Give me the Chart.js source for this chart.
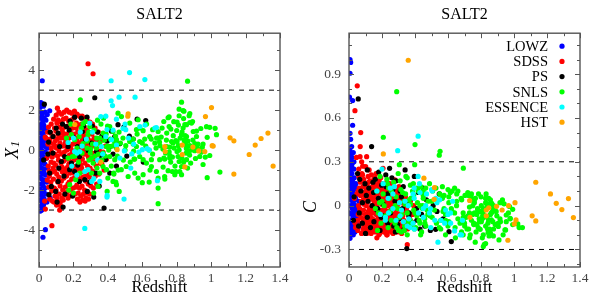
<!DOCTYPE html>
<html>
<head>
<meta charset="utf-8">
<script src="https://cdn.jsdelivr.net/npm/chart.js@4.4.0/dist/chart.umd.min.js"></script>
<style>
html, body { margin: 0; padding: 0; background: #fff; }
#wrap { position: relative; width: 598px; height: 299px; }
#wrap canvas { position: absolute; top: 0; }
</style>
</head>
<body>
<div id="wrap">
  <canvas id="left" width="299" height="299" style="left:0"></canvas>
  <canvas id="right" width="299" height="299" style="left:299px"></canvas>
</div>
<script>
// each row: [redshift, X1, C]
var lowz = [
  [0.019,3.47,0.12],[0.037,-3.98,-0.06],[0.023,-4.36,0.03],[0.010,2.38,0.98],[0.006,2.15,1.0],
  [0.006,1.6,0.906],[0.003,1.0,0.742],[0.022,2.3,0.719],[0.022,1.45,0.55],[0.006,0.6,0.495],
  [0.010,0.05,0.454],[0.016,-0.9,0.404],[0.006,-0.2,0.376],[0.026,2.2,0.363],[0.010,-1.1,0.347],
  [0.006,-2.5,-0.224],[0.016,-3.0,-0.19],[0.014,2.35,0.3],[0.062,1.97,-0.02],[0.048,1.78,-0.1],
  [0.012,1.9,0.26],[0.018,1.75,0.22],[0.030,1.6,0.15],[0.040,1.5,0.05],[0.014,1.3,0.19],
  [0.028,1.25,-0.05],[0.008,1.15,0.28],[0.035,1.1,-0.12],[0.018,1.0,0.1],[0.045,0.95,-0.15],
  [0.010,0.85,0.24],[0.025,0.8,0.02],[0.032,0.65,-0.08],[0.015,0.5,0.17],[0.040,0.45,0.0],
  [0.022,0.35,-0.17],[0.008,0.25,0.21],[0.030,0.2,0.08],[0.050,0.1,-0.1],[0.020,-0.05,-0.02],
  [0.036,-0.1,0.04],[0.016,-0.3,0.13],[0.027,-0.35,-0.14],[0.044,-0.4,-0.06],[0.010,-0.5,0.06],
  [0.022,-0.6,0.18],[0.034,-0.7,-0.04],[0.006,-0.8,0.32],[0.028,-0.95,0.11],[0.050,-0.9,-0.13],
  [0.022,-1.2,-0.09],[0.038,-1.25,0.07],[0.006,-1.35,0.14],[0.016,-1.45,-0.11],[0.030,-1.5,0.25],
  [0.045,-1.6,-0.02],[0.010,-1.7,-0.16],[0.024,-1.8,0.09],[0.036,-1.9,-0.18],[0.006,-1.95,0.0],
  [0.016,-2.05,0.27],[0.028,-2.1,-0.07],[0.012,-2.25,0.04],[0.022,-2.35,-0.12],[0.040,-2.2,0.12],
  [0.008,-2.5,-0.2],[0.018,-2.6,0.16],[0.030,-2.45,-0.03],[0.012,-2.8,0.07],[0.020,-2.9,-0.15],
  [0.008,-3.05,0.2],[0.026,-2.75,0.01],[0.055,-0.2,-0.08],[0.058,-1.3,-0.144],[0.060,0.5,0.03],
  [0.065,-2.4,-0.06],[0.042,0.15,0.15],[0.046,-2.6,-0.11],[0.004,0.0,-0.05],[0.004,1.05,0.1],
  [0.004,-1.0,-0.13],[0.004,-2.0,0.23],[0.032,-0.45,0.19],[0.014,-0.65,-0.06],[0.020,0.65,0.29],
  [0.035,1.9,0.06],[0.026,-1.6,-0.2],[0.012,0.4,-0.18],[0.030,-1.15,0.3],[0.018,-0.2,0.33]
];
var sdss = [
  [0.037,-2.95,-0.12],[0.033,-2.55,0.05],[0.045,-0.4,0.33],[0.040,0.6,-0.15],[0.048,-1.5,0.08],[0.036,0.65,0.65],
  [0.050,0.9,0.82],[0.055,1.15,0.1],[0.052,0.3,-0.1],[0.058,-0.25,0.0],[0.054,-0.8,-0.17],
  [0.060,-1.3,0.2],[0.056,-1.85,-0.06],[0.062,-2.45,0.12],[0.064,0.55,-0.02],[0.059,-1.05,0.25],
  [0.071,1.3,0.5],[0.068,0.85,0.404],[0.075,-3.78,0.03],[0.067,0.35,0.335],[0.073,-0.1,-0.12],
  [0.070,-0.6,0.07],[0.076,-1.1,-0.19],[0.069,-1.6,0.16],[0.074,-2.05,-0.05],[0.078,-2.55,0.22],
  [0.072,0.1,-0.08],[0.077,-0.35,0.3],
  [0.085,1.55,0.13],[0.090,1.1,-0.14],[0.083,0.7,0.27],[0.088,0.25,-0.03],[0.092,-0.2,0.09],
  [0.086,-0.65,-0.16],[0.091,-1.05,0.01],[0.084,-1.45,-0.09],[0.089,-1.9,0.18],[0.093,-2.3,-0.13],
  [0.087,-2.6,0.04],[0.094,0.45,-0.18],[0.082,-0.9,0.21],
  [0.107,2.1,0.335],[0.100,1.75,-0.06],[0.104,1.35,0.11],[0.098,0.95,-0.12],[0.106,0.55,0.02],
  [0.101,0.1,0.267],[0.108,-0.3,-0.19],[0.097,-0.75,0.06],[0.103,-1.2,-0.08],[0.109,-1.6,0.14],
  [0.099,-2.0,-0.15],[0.105,-2.4,0.0],[0.102,-2.75,-0.11],
  [0.116,1.9,0.2],[0.112,1.5,-0.1],[0.120,1.15,0.05],[0.114,0.75,-0.16],[0.122,0.35,0.244],
  [0.117,-0.05,-0.04],[0.113,-0.5,0.1],[0.121,-0.95,-0.13],[0.115,-1.35,0.03],[0.123,-1.8,-0.07],
  [0.118,-2.2,0.16],[0.120,-3.0,-0.17],[0.124,-2.6,-0.02],[0.111,0.2,-0.09],
  [0.131,1.8,-0.05],[0.127,1.4,0.17],[0.135,1.0,-0.18],[0.129,0.6,0.07],[0.137,0.2,-0.11],
  [0.132,-0.2,0.12],[0.128,-0.65,-0.03],[0.136,-1.1,0.21],[0.130,-1.55,-0.15],[0.138,-2.0,0.05],
  [0.133,-2.4,-0.08],[0.126,-2.8,0.1],[0.139,0.85,0.0],[0.134,-0.85,-0.19],
  [0.146,1.9,0.1],[0.142,1.55,-0.13],[0.150,1.15,0.15],[0.144,0.75,-0.02],[0.152,0.35,-0.17],
  [0.147,-0.1,0.04],[0.143,-0.55,-0.09],[0.151,-0.95,0.18],[0.145,-1.4,-0.12],[0.153,-1.85,0.02],
  [0.148,-2.25,-0.05],[0.141,-2.5,0.13],[0.154,0.55,0.08],[0.149,-1.2,-0.16],
  [0.161,2.0,-0.1],[0.157,1.6,0.19],[0.165,1.2,-0.06],[0.159,0.8,0.11],[0.167,0.4,-0.14],
  [0.162,0.0,0.06],[0.158,-0.45,-0.18],[0.166,-0.85,0.0],[0.160,-1.3,0.14],[0.168,-1.7,-0.1],
  [0.163,-2.1,0.08],[0.169,-2.4,-0.22],[0.156,0.2,-0.04],[0.164,-1.05,0.22],
  [0.176,1.9,0.05],[0.172,1.45,-0.15],[0.180,1.05,0.12],[0.174,0.6,-0.07],[0.182,0.2,0.17],
  [0.177,-0.25,-0.12],[0.173,-0.7,0.03],[0.181,-1.15,-0.2],[0.175,-1.6,0.09],[0.183,-2.0,-0.04],
  [0.178,-2.3,0.15],[0.184,0.85,-0.1],[0.171,-0.45,0.07],
  [0.191,1.85,-0.08],[0.187,1.5,0.14],[0.195,1.1,-0.17],[0.189,0.7,0.04],[0.197,0.3,-0.1],
  [0.192,-0.15,0.19],[0.188,-0.6,-0.05],[0.196,-1.0,0.1],[0.190,-1.45,-0.14],[0.198,-1.9,0.01],
  [0.193,-2.25,-0.09],[0.186,0.05,-0.19],[0.199,-0.8,0.12],
  [0.206,1.95,0.255],[0.202,1.6,-0.03],[0.210,1.2,0.09],[0.204,0.8,-0.15],[0.212,0.4,0.06],
  [0.207,-0.05,-0.11],[0.203,-0.5,0.15],[0.211,-0.95,-0.06],[0.205,-1.4,0.02],[0.213,-1.85,-0.18],
  [0.208,-2.2,0.11],[0.214,0.6,-0.13],[0.201,-1.15,0.07],
  [0.221,1.8,-0.12],[0.217,1.35,0.08],[0.225,0.9,-0.16],[0.219,0.5,0.13],[0.227,0.05,-0.07],
  [0.222,-0.4,0.04],[0.218,-0.85,-0.18],[0.226,-1.3,0.1],[0.220,-1.75,-0.03],[0.228,-2.15,0.16],
  [0.223,-2.45,-0.1],[0.229,0.25,-0.2],[0.216,1.1,0.02],
  [0.236,1.7,0.12],[0.232,1.25,-0.09],[0.240,0.8,0.05],[0.234,0.35,-0.14],[0.242,-0.1,0.09],
  [0.237,-0.55,-0.04],[0.233,-1.0,0.14],[0.241,-1.45,-0.17],[0.235,-1.9,0.0],[0.243,-2.3,-0.12],
  [0.238,-2.6,0.07],[0.231,0.1,-0.2],[0.244,-0.75,0.03],
  [0.251,1.7,-0.06],[0.247,1.3,0.15],[0.255,0.85,-0.13],[0.249,0.45,0.02],[0.257,0.0,-0.18],
  [0.252,-0.45,0.1],[0.248,-0.9,-0.08],[0.256,-1.35,0.05],[0.250,-1.8,-0.15],[0.258,-2.2,0.08],
  [0.253,-2.5,-0.03],[0.246,0.65,0.11],[0.259,-0.2,-0.11],
  [0.266,1.6,0.06],[0.262,1.15,-0.16],[0.270,0.7,0.09],[0.264,0.25,-0.06],[0.272,-0.2,0.13],
  [0.267,-0.65,-0.19],[0.263,-1.1,0.0],[0.271,-1.55,-0.1],[0.265,-2.0,0.12],[0.273,-2.4,-0.15],
  [0.268,-2.55,0.03],[0.274,0.95,-0.08],
  [0.285,4.32,-0.04],[0.281,1.45,0.11],[0.277,1.0,-0.12],[0.285,0.55,0.04],[0.279,0.1,-0.17],
  [0.287,-0.35,0.07],[0.282,-0.8,-0.07],[0.278,-1.25,0.176],[0.286,-1.7,-0.14],[0.280,-2.15,0.02],
  [0.288,-2.45,-0.09],[0.276,0.3,0.1],
  [0.296,1.4,-0.1],[0.292,0.9,0.08],[0.300,0.45,-0.15],[0.294,0.0,0.01],[0.302,-0.45,-0.06],
  [0.297,-0.9,0.1],[0.293,-1.35,-0.18],[0.301,-1.8,0.04],[0.295,-2.2,-0.11],[0.303,0.2,0.13],
  [0.298,-1.1,-0.02],
  [0.314,3.82,0.02],[0.311,1.3,0.05],[0.307,0.8,-0.13],[0.315,0.3,0.09],[0.309,-0.15,-0.08],
  [0.317,-0.6,0.03],[0.312,-1.05,-0.16],[0.308,-1.5,0.06],[0.316,-1.9,-0.05],[0.319,0.55,-0.19],
  [0.326,1.1,-0.07],[0.322,0.6,0.07],[0.330,0.15,-0.14],[0.324,-0.35,0.02],[0.332,-0.8,-0.1],
  [0.327,-1.3,0.05],[0.335,-1.7,-0.17],[0.338,0.4,0.0],
  [0.345,0.9,-0.04],[0.350,0.35,-0.12],[0.342,-0.2,0.06],[0.355,-0.65,-0.16],[0.348,-1.2,-0.02],
  [0.353,-0.05,-0.267],
  [0.368,0.5,-0.09],[0.372,-0.1,0.03],[0.365,-0.7,-0.14],[0.385,0.2,-0.06],[0.392,-0.45,0.0],
  [0.378,-1.0,-0.11]
];
var ps = [
  [0.031,2.3,0.06],[0.027,-0.49,-0.1],[0.052,-0.2,0.22],[0.056,0.4,0.73],[0.062,-1.15,-0.05],
  [0.072,-1.82,0.1],[0.058,-2.23,-0.14],[0.081,-0.15,0.02],[0.081,0.68,-0.12],[0.097,-2.07,0.15],
  [0.100,1.1,-0.19],[0.105,-2.6,0.07],[0.111,0.85,0.244],[0.111,-1.57,-0.08],[0.120,0.18,0.12],
  [0.130,-0.57,-0.15],[0.140,-2.85,0.0],[0.137,1.3,0.404],[0.149,-0.32,0.09],[0.151,-2.2,-0.11],
  [0.159,1.18,0.18],[0.169,0.18,-0.03],[0.178,-0.98,0.05],[0.188,-0.65,-0.17],[0.198,0.65,0.14],
  [0.207,1.65,-0.07],[0.207,-1.07,0.01],[0.223,0.18,0.21],[0.235,-0.32,-0.12],[0.235,-1.57,0.08],
  [0.246,1.6,0.255],[0.252,0.93,-0.05],[0.266,-1.48,0.11],[0.271,0.52,-0.14],[0.279,1.65,0.03],
  [0.281,-2.07,-0.18],[0.285,-0.02,0.17],[0.305,0.35,-0.09],[0.318,-2.35,0.06],[0.324,2.62,-0.02],
  [0.329,-1.15,0.13],[0.334,-0.07,-0.16],[0.340,0.9,0.244],[0.350,-1.8,-0.294],[0.357,-0.48,0.02],
  [0.362,-0.23,-0.07],[0.378,-2.9,0.05],[0.386,-0.48,-0.12],[0.396,0.45,0.2],[0.411,0.18,-0.02],
  [0.411,-1.15,-0.1],[0.420,0.95,0.09],[0.440,0.68,-0.06],[0.450,-0.8,0.12],[0.459,1.27,-0.14],
  [0.469,0.32,0.04],[0.493,1.15,-0.17],[0.510,-0.3,0.0],[0.525,0.7,-0.162],[0.533,0.52,-0.04],
  [0.547,0.55,0.08],[0.570,1.55,-0.09],[0.606,-0.6,-0.178],[0.620,1.48,-0.246],
  [0.115,-0.9,0.03],[0.145,-1.3,0.16],[0.175,1.0,-0.02],[0.195,-2.3,-0.08],[0.225,-0.75,0.13],
  [0.260,1.2,0.19],[0.295,-1.6,-0.13],[0.310,1.2,0.1],[0.365,0.7,-0.05],[0.430,-0.2,-0.16],
  [0.180,1.45,0.23],[0.065,0.9,0.18]
];
var snls = [
  [0.863,3.45,-0.05],[0.692,-2.68,-0.1],[0.289,0.9,0.78],[0.208,-0.3,0.468],[0.400,0.2,0.418],
  [0.552,-0.45,0.372],[0.547,0.3,0.345],[0.693,0.6,0.256],[0.305,-0.4,0.28],[0.398,1.2,0.28],
  [0.240,2.52,0.12],
  [0.169,-0.4,0.1],[0.178,-1.73,-0.05],[0.200,-2.15,0.03],[0.173,-2.0,-0.17],[0.188,0.77,0.2],
  [0.194,-0.32,-0.12],[0.207,0.52,0.08],[0.213,-1.48,0.0],[0.221,0.1,-0.07],[0.233,0.68,0.15],
  [0.237,-1.15,-0.15],[0.246,1.1,0.05],[0.256,1.32,-0.1],[0.256,0.32,0.1],[0.160,0.6,-0.02],
  [0.185,1.3,0.02],[0.230,-0.6,0.18],[0.250,-0.15,-0.04],
  [0.271,1.43,0.16],[0.279,0.1,-0.12],[0.285,0.77,0.06],[0.295,1.18,-0.02],[0.298,-0.15,0.22],
  [0.305,-1.15,-0.08],[0.314,-0.65,0.11],[0.318,-2.15,-0.18],[0.334,0.1,0.03],[0.337,-0.9,-0.14],
  [0.343,-1.82,0.08],[0.353,0.35,-0.05],[0.353,0.6,0.19],[0.353,-1.15,-0.2],[0.372,0.85,0.01],
  [0.372,-0.15,0.14],[0.372,-0.82,-0.1],[0.392,0.18,-0.03],[0.392,-0.98,0.07],[0.396,-2.07,-0.16],
  [0.411,1.18,0.12],[0.411,-0.32,-0.07],[0.430,0.93,0.0],[0.430,-1.57,-0.12],[0.440,0.38,0.09],
  [0.440,-0.48,-0.18],[0.450,-1.73,0.05],[0.459,1.85,-0.09],[0.479,1.68,0.03],[0.280,0.45,0.0],
  [0.290,-0.5,-0.15],[0.310,0.3,0.17],[0.320,1.0,-0.06],[0.325,-0.3,0.09],[0.335,0.6,-0.17],
  [0.345,-0.2,0.2],[0.360,1.3,-0.11],[0.365,-0.5,0.04],[0.380,0.5,-0.13],[0.385,-0.3,0.1],
  [0.390,0.8,0.15],[0.405,0.0,-0.15],[0.415,0.55,0.02],[0.420,-0.8,0.1],[0.425,0.2,-0.1],
  [0.435,-1.2,0.13],[0.445,0.7,-0.02],[0.450,0.1,0.07],[0.455,-0.3,-0.08],[0.300,0.05,-0.17],
  [0.340,1.5,0.01],[0.375,1.6,0.05],[0.400,-1.4,-0.05],[0.460,-1.0,-0.12],[0.465,0.9,0.12],
  [0.828,2.4,0.02],[0.814,2.05,-0.06],[0.842,1.95,-0.12],[0.876,1.83,0.0],[0.814,1.72,-0.2],
  [0.756,1.67,0.03],[0.802,1.4,-0.1],[0.876,1.38,-0.16],[0.847,1.27,0.05],[0.756,1.18,-0.13],
  [0.725,1.43,0.07],[0.692,0.93,-0.05],[0.660,1.02,0.1],[0.576,1.52,-0.02],[0.527,1.35,0.12],
  [0.566,1.02,0.05],[0.586,1.1,-0.1],[0.605,0.97,0.02],[0.643,0.68,-0.15],[0.683,0.6,0.04],
  [0.710,0.65,-0.08],[0.742,0.85,0.08],[0.780,0.72,-0.03],[0.800,0.98,0.06],[0.828,0.77,-0.14],
  [0.857,0.68,0.04],[0.896,0.93,-0.07],[0.915,0.68,0.02],[0.770,0.43,-0.18],[0.802,0.43,0.0],
  [0.847,0.35,-0.1],[0.876,0.22,-0.02],[0.905,0.32,-0.12],[0.930,0.02,0.039],[0.742,0.18,-0.1],
  [0.703,0.22,0.07],[0.673,0.35,-0.12],[0.652,0.55,0.0],[0.614,0.55,0.09],[0.585,0.43,-0.06],
  [0.566,0.18,0.13],[0.547,0.55,-0.15],[0.527,0.43,0.04],[0.504,0.22,-0.08],[0.488,0.6,0.15],
  [0.473,0.35,-0.03],[0.450,0.52,0.1],[0.585,-0.32,-0.2],[0.605,-0.48,0.06],[0.556,-0.45,-0.1],
  [0.624,-0.65,-0.04],[0.653,-0.48,0.08],[0.701,-0.48,-0.14],[0.730,-0.45,-0.05],[0.759,-0.4,0.04],
  [0.808,-0.32,-0.22],[0.857,-0.48,-0.06],[0.828,-0.82,-0.26],[0.775,-1.07,-0.13],[0.721,-0.85,-0.07],
  [0.682,-1.07,-0.18],[0.653,-0.82,0.03],[0.605,-1.23,-0.11],[0.576,-1.4,0.07],[0.556,-1.15,-0.16],
  [0.507,-0.82,0.1],[0.478,-0.98,-0.06],[0.446,-1.6,0.0],[0.434,-1.15,-0.2],[0.518,-1.32,-0.03],
  [0.692,-1.4,-0.08],[0.692,-1.9,-0.2],[0.640,-1.6,-0.05],[0.600,-1.63,0.11],[0.730,-1.32,-0.01],
  [0.789,-1.23,-0.09],[0.818,-1.07,-0.03],[0.466,-2.07,-0.14],
  [0.837,1.98,-0.08],[0.840,1.58,-0.01],[0.872,1.72,-0.11],[0.892,1.43,-0.04],[0.886,1.35,-0.13],
  [0.857,1.27,-0.19],[0.837,1.1,0.0],[0.810,1.25,-0.07],[0.783,1.42,-0.15],[0.750,1.62,-0.06],
  [0.766,1.05,0.05],[0.915,0.95,-0.09],[0.940,1.08,0.012],[0.973,1.17,-0.006],[0.992,1.14,-0.025],
  [1.023,1.09,-0.125],[1.031,0.77,-0.15],[0.977,0.64,-0.087],[0.953,0.3,-0.064],[0.924,0.3,0.021],
  [0.918,0.15,-0.11],[0.949,0.15,-0.166],[0.905,-0.03,-0.143],[0.909,-0.42,-0.235],[0.934,-0.32,-0.2],
  [0.992,-0.27,-0.13],[0.856,0.08,0.016],[0.852,0.26,-0.16],[0.843,0.51,-0.184],[0.849,0.73,-0.207],
  [0.820,0.6,-0.265],[0.795,0.48,-0.162],[0.810,0.22,-0.087],[0.779,0.35,-0.02],[0.760,0.15,-0.05],
  [0.756,-0.09,-0.12],[0.760,-0.27,0.02],[0.775,-0.35,-0.06],[0.802,-0.07,-0.11],[0.814,-0.57,-0.02],
  [0.863,-0.9,-0.098],[0.881,-0.65,-0.008],[0.953,-0.72,-0.11],[0.977,-1.38,-0.09],[1.051,-1.1,-0.15],
  [0.828,-1.23,0.05],[0.725,-0.4,-0.16],[0.731,-1.45,-0.22],[0.750,-1.03,0.0],[0.795,-1.08,-0.04],
  [0.865,0.45,0.016],[0.885,0.0,-0.008],[0.945,-0.1,-0.166],[0.875,-0.25,-0.207],[0.855,-0.15,-0.184],
  [0.814,0.0,-0.28],[0.831,0.9,0.08],[0.830,-0.4,0.05],[0.894,0.5,-0.13],[0.966,-0.35,-0.05],
  [0.620,0.2,-0.02],[0.640,0.0,0.12],[0.660,-0.2,-0.09],[0.680,0.1,0.05],[0.700,0.4,-0.12],
  [0.720,0.05,0.09],[0.735,-0.15,-0.2],[0.550,-0.05,0.08],[0.530,-0.6,-0.12],[0.500,0.0,0.03],
  [0.490,-0.5,-0.07],[0.570,0.8,-0.04],[0.600,0.35,-0.14],[0.625,1.3,0.1],[0.645,-1.0,-0.22],
  [0.715,1.1,-0.16],[0.740,0.5,0.06],[0.785,0.1,0.08],[0.765,-0.6,-0.25],[0.790,-0.8,-0.11],
  [0.840,-0.6,-0.16],[0.870,-0.05,-0.04]
];
var essence = [
  [0.526,3.88,0.05],[0.419,3.47,0.2],[0.615,3.53,-0.05],[0.419,2.47,0.475],[0.465,2.65,0.0],
  [0.558,2.65,-0.1],[0.427,2.23,0.15],[0.388,1.7,0.08],[0.450,1.55,-0.08],[0.395,1.03,0.12],
  [0.488,1.08,-0.05],[0.504,1.02,0.1],[0.616,1.25,-0.12],[0.682,1.13,-0.2],[0.496,-0.04,-0.15],
  [0.628,0.07,0.03],[0.640,0.0,-0.173],[0.600,0.02,-0.06],[0.539,-0.19,-0.25],[0.533,-0.9,0.02],
  [0.688,-1.53,-0.1],[0.494,-2.45,-0.02],[0.395,-2.35,0.05],[0.169,0.38,0.1],[0.207,-0.07,0.15],
  [0.237,-0.07,0.05],[0.221,-0.15,-0.08],[0.275,0.55,0.13],[0.295,1.35,0.376],[0.359,1.68,0.0],
  [0.388,0.68,-0.12],[0.421,0.52,-0.05],[0.285,-0.98,-0.1],[0.318,-1.43,-0.03],[0.353,-1.57,-0.14],
  [0.306,-1.57,0.02],[0.363,0.18,-0.09],[0.266,-1.07,0.08],[0.396,-2.27,-0.16],[0.266,-3.92,-0.02],
  [0.586,1.18,-0.03],[0.673,1.1,-0.2],[0.200,0.6,0.25],[0.250,0.2,0.12],[0.310,0.9,-0.07],
  [0.330,0.3,-0.11],[0.340,-0.5,0.03],[0.370,-0.2,-0.15],[0.450,0.25,-0.02],[0.470,-0.4,0.08],
  [0.520,0.6,-0.1],[0.550,0.3,0.04],[0.580,-0.1,-0.12],[0.430,1.0,0.09],[0.240,0.9,-0.05],
  [0.190,-0.8,-0.06],[0.220,-1.25,-0.1],[0.500,1.3,0.11]
];
var hst = [
  [0.208,1.28,0.354],[0.359,-0.6,0.995],[0.454,0.02,0.188],[0.516,1.7,0.043],[0.518,1.82,0.124],
  [0.731,0.18,0.035],[0.733,-0.07,-0.08],[0.832,0.25,-0.03],[0.832,-0.22,-0.07],[0.847,-0.84,-0.015],
  [0.894,0.15,-0.005],[0.928,-0.04,-0.03],[0.963,-0.07,-0.237],[0.967,1.68,0.0],[1.002,2.13,-0.125],
  [1.012,0.2,-0.098],[1.006,0.22,0.02],[1.110,0.615,-0.07],[1.132,0.465,0.16],[1.132,-1.2,-0.105],
  [1.221,-0.22,0.08],[1.256,0.25,0.016],[1.290,0.58,-0.027],[1.330,0.85,0.048],[1.360,-0.8,-0.082]
];

var surveys = ["LOWZ", "SDSS", "PS", "SNLS", "ESSENCE", "HST"];
var colors = ["#0000ff", "#ff0000", "#000000", "#00ff00", "#00ffff", "#ffa500"];
var samples = [lowz, sdss, ps, snls, essence, hst];

var zLabels = [0, 0.2, 0.4, 0.6, 0.8, 1, 1.2, 1.4];
var x1Labels = [-4, -2, 0, 2, 4];
var cLabels = [-0.3, 0, 0.3, 0.6, 0.9];
var x1Cuts = [-3, 3];
var cCuts = [-0.3, 0.3];

var serif = '"Liberation Serif", "Times New Roman", serif';

function isLabel(v, list) {
  for (var i = 0; i < list.length; i++) {
    if (Math.abs(v - list[i]) < 1e-6) return true;
  }
  return false;
}

// box, inward ticks, y tick labels, rotated y title and (right panel) the legend
function makeFrame(cfg) {
  return {
    id: 'frame',
    afterDraw: function(chart) {
      var ctx = chart.ctx, a = chart.chartArea;
      var xs = chart.scales.x, ys = chart.scales.y;
      var k, v, len, p;
      ctx.save();
      ctx.strokeStyle = '#555';
      ctx.lineWidth = 1;
      ctx.beginPath();
      for (k = 0; k <= 14; k++) {
        v = k / 10;
        len = isLabel(v, zLabels) ? 5 : 3;
        p = Math.round(xs.getPixelForValue(v)) + 0.5;
        ctx.moveTo(p, a.bottom); ctx.lineTo(p, a.bottom - len);
        ctx.moveTo(p, a.top); ctx.lineTo(p, a.top + len);
      }
      for (k = Math.ceil(cfg.yMin / cfg.yStep - 1e-6); k * cfg.yStep <= cfg.yMax + 1e-9; k++) {
        v = k * cfg.yStep;
        len = isLabel(v, cfg.yLabels) ? 5 : 3;
        p = Math.round(ys.getPixelForValue(v)) + 0.5;
        ctx.moveTo(a.left, p); ctx.lineTo(a.left + len, p);
        ctx.moveTo(a.right, p); ctx.lineTo(a.right - len, p);
      }
      ctx.stroke();
      ctx.lineWidth = 1.4;
      ctx.strokeRect(a.left, a.top, a.right - a.left, a.bottom - a.top);

      // y tick labels
      ctx.fillStyle = '#444';
      ctx.font = '13.5px ' + serif;
      ctx.textAlign = 'right';
      ctx.textBaseline = 'middle';
      cfg.yLabels.forEach(function(l) {
        ctx.fillText(String(l), a.left - cfg.tickPad, ys.getPixelForValue(l));
      });

      // y title
      ctx.fillStyle = '#000';
      ctx.textAlign = 'left';
      ctx.translate(cfg.titleX, cfg.titleY);
      ctx.rotate(-Math.PI / 2);
      ctx.font = 'italic 18px ' + serif;
      var w = ctx.measureText(cfg.title).width;
      var sw = 0;
      if (cfg.sub) {
        ctx.font = 'italic 12px ' + serif;
        sw = ctx.measureText(cfg.sub).width + 1;
      }
      var x0 = -(w + sw) / 2;
      ctx.font = 'italic 18px ' + serif;
      ctx.fillText(cfg.title, x0, 0);
      if (cfg.sub) {
        ctx.font = 'italic 12px ' + serif;
        ctx.fillText(cfg.sub, x0 + w + 1, 3);
      }
      ctx.restore();

      if (cfg.legend) {
        ctx.save();
        ctx.font = '14.5px ' + serif;
        ctx.textAlign = 'right';
        ctx.textBaseline = 'middle';
        for (var i = 0; i < surveys.length; i++) {
          var y = a.top + 13 + i * 15.2;
          ctx.fillStyle = '#000';
          ctx.fillText(surveys[i], a.right - 32, y + 1);
          ctx.fillStyle = colors[i];
          ctx.beginPath();
          ctx.arc(a.right - 18, y, 2.6, 0, Math.PI * 2);
          ctx.fill();
        }
        ctx.restore();
      }
    }
  };
}

function makeChart(id, col, cfg) {
  var datasets = [];
  for (var i = 0; i < samples.length; i++) {
    datasets.push({
      label: surveys[i],
      data: samples[i].map(function(r) { return { x: r[0], y: r[col] }; }),
      backgroundColor: colors[i],
      borderWidth: 0,
      pointRadius: 2.6,
      pointHoverRadius: 2.6,
      order: samples.length - i
    });
  }
  cfg.cuts.forEach(function(c) {
    datasets.push({
      type: 'line',
      label: '',
      data: [{ x: 0, y: c }, { x: 1.4, y: c }],
      borderColor: '#000',
      borderWidth: 1,
      borderDash: [5, 5],
      pointRadius: 0,
      fill: false,
      order: 20
    });
  });

  return new Chart(document.getElementById(id).getContext('2d'), {
    type: 'scatter',
    data: { datasets: datasets },
    plugins: [makeFrame(cfg)],
    options: {
      responsive: false,
      animation: false,
      devicePixelRatio: 1,
      events: [],
      layout: { padding: { left: 0, right: cfg.padRight, top: 0, bottom: 0 } },
      plugins: {
        legend: { display: false },
        tooltip: { enabled: false },
        title: {
          display: true,
          text: 'SALT2',
          fullSize: false,
          color: '#000',
          font: { family: serif, size: 16, weight: 'normal' },
          padding: { top: 5, bottom: 9 }
        }
      },
      scales: {
        x: {
          type: 'linear',
          min: 0,
          max: 1.4,
          grid: { display: false, drawTicks: false },
          border: { display: false },
          afterFit: function(s) { s.height = 32; },
          title: {
            display: true,
            text: 'Redshift',
            color: '#000',
            font: { family: serif, size: 16.5 },
            padding: { top: 0, bottom: 1 }
          },
          ticks: {
            stepSize: 0.2,
            autoSkip: false,
            maxRotation: 0,
            padding: 3,
            color: '#444',
            font: { family: serif, size: 13.5 },
            callback: function(v) { return isLabel(v, zLabels) ? String(Math.round(v * 10) / 10) : ''; }
          }
        },
        y: {
          type: 'linear',
          min: cfg.yMin,
          max: cfg.yMax,
          grid: { display: false, drawTicks: false },
          border: { display: false },
          afterFit: function(s) { s.width = cfg.axisWidth; },
          ticks: { display: false }
        }
      }
    }
  });
}

makeChart('left', 1, {
  yMin: -5.85, yMax: 5.85, yStep: 1, yLabels: x1Labels, cuts: x1Cuts,
  axisWidth: 39, padRight: 19, tickPad: 4,
  title: 'X', sub: '1', titleX: 13, titleY: 150, legend: false
});

makeChart('right', 2, {
  yMin: -0.42, yMax: 1.18, yStep: 0.1, yLabels: cLabels, cuts: cCuts,
  axisWidth: 50, padRight: 18, tickPad: 8,
  title: 'C', sub: '', titleX: 12, titleY: 207, legend: true
});
</script>
</body>
</html>
